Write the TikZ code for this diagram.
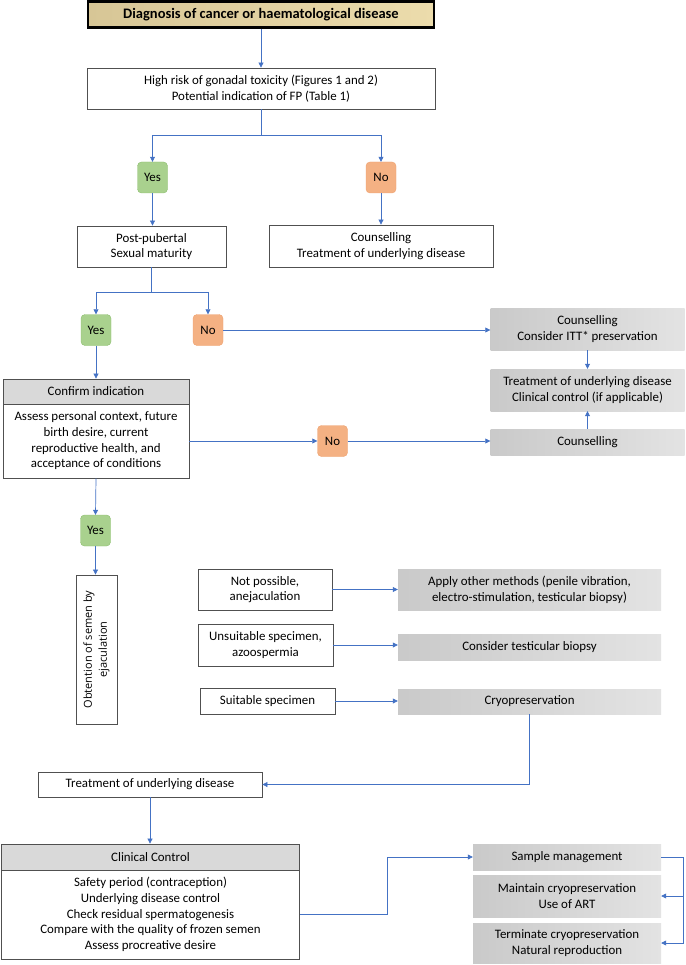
\documentclass[tikz,border=0pt]{standalone}
\usepackage{fontspec}
\setmainfont{Carlito}
\newfontfamily\rotfont{Open Sans}
\usetikzlibrary{arrows.meta}
\definecolor{linkblue}{RGB}{68,114,196}
\definecolor{yesfill}{RGB}{169,209,142}
\definecolor{yesedge}{RGB}{140,190,110}
\definecolor{nofill}{RGB}{244,177,131}
\definecolor{noedge}{RGB}{238,160,110}
\definecolor{tanleft}{RGB}{215,198,150}
\definecolor{tanmid}{RGB}{250,238,195}
\definecolor{tanright}{RGB}{236,220,172}
\definecolor{boxedge}{RGB}{80,80,80}
\tikzset{
  txt/.style={font=\fontsize{12.9}{15.7}\selectfont, align=center, inner sep=0pt},
  plainbox/.style={txt, draw=boxedge, line width=0.8pt, fill=white},
  hdrbox/.style={txt, draw=boxedge, line width=0.8pt, fill=black!15},
  greybox/.style={txt, left color=black!21, right color=black!11},
  yesbox/.style={txt, draw=yesedge, fill=yesfill, rounded corners=4pt, minimum width=30, minimum height=31},
  nobox/.style={txt, draw=noedge, fill=nofill, rounded corners=4pt, minimum width=30, minimum height=31},
  link/.style={draw=linkblue, line width=0.7pt},
  arr/.style={link, -{Triangle[length=5pt, width=5pt]}},
}

\begin{document}
\begin{tikzpicture}[x=1pt, y=-1pt]
    \useasboundingbox (0,0) rectangle (685,965);

    \node (diag) at (261,14.5) [txt, draw=black, line width=2.5pt, left color=tanleft, middle color=tanmid, right color=tanright, minimum width=346, minimum height=26, font=\bfseries\fontsize{14.5}{16}\selectfont] {Diagnosis of cancer or haematological disease};
    \node (risk) at (261,88.5) [plainbox, minimum width=348, minimum height=41] {High risk of gonadal toxicity (Figures 1 and 2)\\Potential indication of FP (Table 1)};
    \node (yes1) at (152.5,177.5) [yesbox] {Yes};
    \node (no1) at (381,177.5) [nobox] {No};
    \node (puberty) at (151.5,246.5) [plainbox, minimum width=149, minimum height=41] {Post-pubertal\\Sexual maturity};
    \node (couns1) at (381,246) [plainbox, minimum width=224, minimum height=42] {Counselling\\Treatment of underlying disease};

    \node (yes2) at (96,330) [yesbox] {Yes};
    \node (no2) at (208,330) [nobox] {No};
    \node (itt) at (587.5,329) [greybox, minimum width=194, minimum height=42] {Counselling\\Consider ITT* preservation};
    \node (treat1) at (587.5,390) [greybox, minimum width=194, minimum height=42] {Treatment of underlying disease\\Clinical control (if applicable)};
    \node (couns2) at (587.5,442) [greybox, minimum width=194, minimum height=26] {Counselling};
    \node (confhdr) at (96,391.5) [hdrbox, minimum width=186, minimum height=25] {Confirm indication};
    \node (confbody) at (96,441) [plainbox, minimum width=186, minimum height=74] {Assess personal context, future\\birth desire, current\\reproductive health, and\\acceptance of conditions};
    \node (no3) at (332.5,441) [nobox] {No};

    \node (yes3) at (95.5,530.5) [yesbox] {Yes};
    \node (obt) at (96.5,649.5) [plainbox, minimum width=41, minimum height=149] {};
    \node (obttext) at (obt.center) [rotate=90, align=center, inner sep=0pt, font=\rotfont\fontsize{11}{15}\selectfont] {Obtention of semen by\\ejaculation};
    \node (notposs) at (265,589.5) [plainbox, minimum width=134, minimum height=41] {Not possible,\\anejaculation};
    \node (apply) at (529.5,589.5) [greybox, minimum width=263, minimum height=41] {Apply other methods (penile vibration,\\electro-stimulation, testicular biopsy)};
    \node (unsuit) at (265.5,645) [plainbox, minimum width=135, minimum height=42] {Unsuitable specimen,\\azoospermia};
    \node (biopsy) at (529.5,647) [greybox, minimum width=263, minimum height=26] {Consider testicular biopsy};
    \node (suitable) at (267.5,701) [plainbox, minimum width=135, minimum height=26] {Suitable specimen};
    \node (cryo) at (529.5,701.5) [greybox, minimum width=263, minimum height=25] {Cryopreservation};

    \node (treat2) at (150,784.5) [plainbox, minimum width=224, minimum height=25] {Treatment of underlying disease};
    \node (cchdr) at (150.5,857) [hdrbox, minimum width=298, minimum height=26] {Clinical Control};
    \node (ccbody) at (150.5,914.5) [plainbox, minimum width=298, minimum height=89] {Safety period (contraception)\\Underlying disease control\\Check residual spermatogenesis\\Compare with the quality of frozen semen\\Assess procreative desire};
    \node (sample) at (567,857) [greybox, minimum width=188, minimum height=26] {Sample management};
    \node (maintain) at (567,896) [greybox, minimum width=188, minimum height=42] {Maintain cryopreservation\\Use of ART};
    \node (terminate) at (567,943) [greybox, minimum width=188, minimum height=40] {Terminate cryopreservation\\Natural reproduction};

    \coordinate (j1) at (261,135);
    \coordinate (j2) at (151.5,292);
    \draw [arr] (diag.south) -- (risk.north);
    \draw [link] (risk.south) -- (j1);
    \draw [arr] (j1) -| (yes1.north);
    \draw [arr] (j1) -| (no1.north);
    \draw [arr] (yes1.south) -- (yes1.south |- puberty.north);
    \draw [arr] (no1.south) -- (couns1.north);
    \draw [link] (puberty.south) -- (j2);
    \draw [arr] (j2) -| (yes2.north);
    \draw [arr] (j2) -| (no2.north);
    \draw [arr] (no2.east) -- (no2.east -| itt.west);
    \draw [arr] (itt.south) -- (treat1.north);
    \draw [arr] (couns2.north) -- (treat1.south);
    \draw [arr] (yes2.south) -- (confhdr.north);
    \draw [arr] (confbody.east) -- (no3.west);
    \draw [arr] (no3.east) -- (no3.east -| couns2.west);
    \draw [arr] (confbody.south) -- (yes3.north);
    \draw [arr] (yes3.south) -- (yes3.south |- obt.north);
    \draw [arr] (notposs.east) -- (apply.west);
    \draw [arr] (unsuit.east) -- (unsuit.east -| biopsy.west);
    \draw [arr] (suitable.east) -- (suitable.east -| cryo.west);
    \draw [arr] (cryo.south) |- (treat2.east);
    \draw [arr] (treat2.south) -- (treat2.south |- cchdr.north);
    \draw [arr] (ccbody.east) -- ++(87,0) |- (sample.west);
    \draw [link] (sample.east) -- ++(22,0) coordinate (s1);
    \draw [arr] (s1) |- (maintain.east);
    \draw [arr] (s1) |- (terminate.east);
\end{tikzpicture}
\end{document}
